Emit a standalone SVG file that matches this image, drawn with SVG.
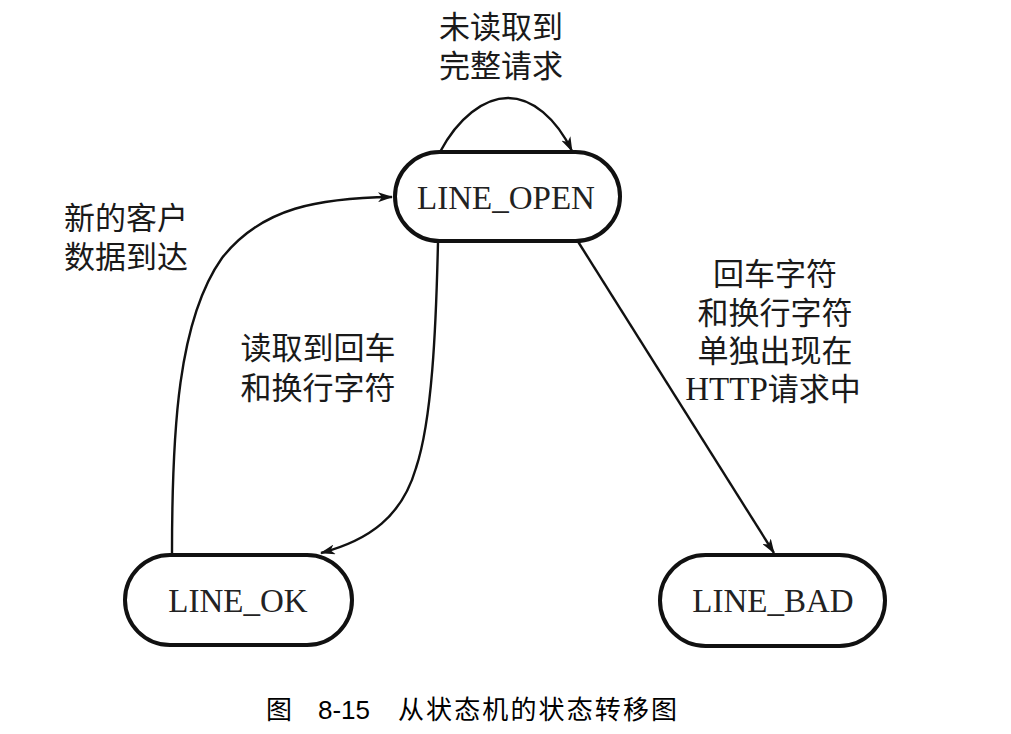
<svg xmlns="http://www.w3.org/2000/svg" width="1011" height="734" viewBox="0 0 1011 734">
  <style>
    .node rect { fill: #fff; stroke: #111; stroke-width: 4; }
    .node text { font-family: "Liberation Serif", "Times New Roman", serif; font-size: 33px; fill: #222; text-anchor: middle; }
    .edge { fill: none; stroke: #111; stroke-width: 2.4; marker-end: url(#arrow); }
    .lbl { font-family: "Noto Sans CJK SC", "Liberation Serif", sans-serif; font-size: 31px; fill: #1a1a1a; text-anchor: middle; }
    .lbl .lat { font-family: "Liberation Serif", serif; font-size: 33px; }
    .cap { font-family: "Noto Sans CJK SC", "Liberation Sans", sans-serif; font-size: 26px; font-weight: 400; fill: #000; }
    .cap.num { font-family: "Liberation Sans", sans-serif; }
  </style>
  <defs>
    <marker id="arrow" viewBox="0 0 15 10" refX="14" refY="5" markerWidth="15" markerHeight="10" markerUnits="userSpaceOnUse" orient="auto">
      <path d="M0,0 L15,5 L0,10 L4,5 z" fill="#111"/>
    </marker>
  </defs>
  <rect width="1011" height="734" fill="#fff"/>

  <!-- transitions -->
  <g id="connectors">
    <path class="edge" d="M440,152 C458,118 484,98 508,98 C532,98 556,118 572,151"/>
    <path class="edge" d="M172,553 C172,430 178,320 222,258 C262,207 320,198 392,197"/>
    <path class="edge" d="M438,242 C436,330 432,420 416,468 C402,516 370,540 321,553"/>
    <path class="edge" d="M577,240 L774,553"/>
  </g>

  <!-- transition labels -->
  <g id="labels">
    <text class="lbl"><tspan x="501" y="38">未读取到</tspan><tspan x="501" y="77">完整请求</tspan></text>
    <text class="lbl"><tspan x="126" y="229">新的客户</tspan><tspan x="126" y="268">数据到达</tspan></text>
    <text class="lbl"><tspan x="318" y="359">读取到回车</tspan><tspan x="318" y="399">和换行字符</tspan></text>
    <text class="lbl"><tspan x="775" y="285">回车字符</tspan><tspan x="775" y="324">和换行字符</tspan><tspan x="775" y="362">单独出现在</tspan><tspan x="773" y="400"><tspan class="lat">HTTP</tspan>请求中</tspan></text>
  </g>

  <g id="node-line-open" class="node">
    <rect x="395" y="152" width="225" height="89" rx="44.5"/>
    <text x="506" y="209">LINE_OPEN</text>
  </g>
  <g id="node-line-ok" class="node">
    <rect x="125" y="555" width="227" height="90" rx="45"/>
    <text x="238" y="612">LINE_OK</text>
  </g>
  <g id="node-line-bad" class="node">
    <rect x="660" y="555" width="225" height="91" rx="45.5"/>
    <text x="773" y="612">LINE_BAD</text>
  </g>

  <!-- figure caption -->
  <g id="caption">
    <text class="cap" x="266" y="719">图</text>
    <text class="cap num" x="318" y="719">8-15</text>
    <text class="cap" x="398" y="719" textLength="279">从状态机的状态转移图</text>
  </g>
</svg>
